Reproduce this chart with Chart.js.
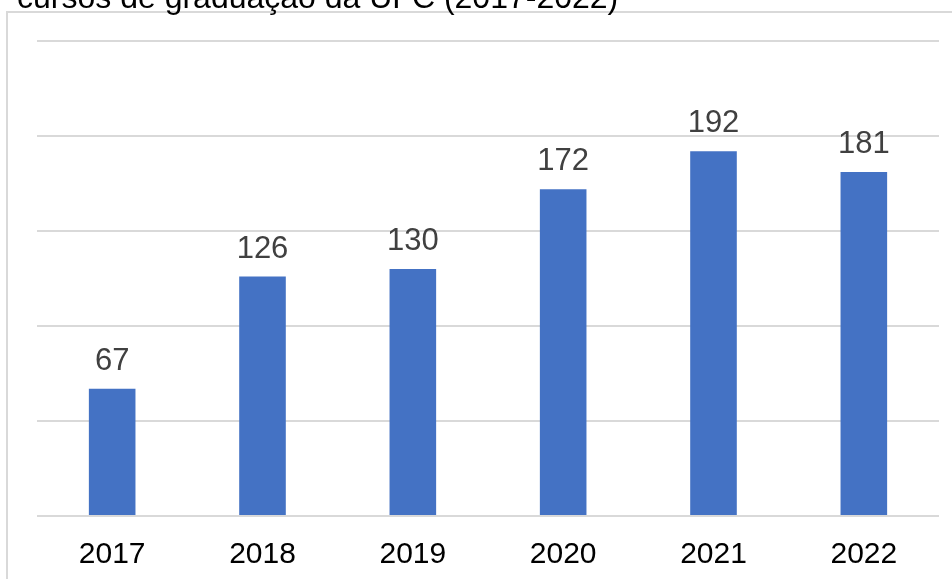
<!doctype html>
<html lang="pt">
  <head>
    <meta charset="utf-8">
    <title>Cursos de graduação da UFC (2017-2022)</title>
    <script src="https://cdn.jsdelivr.net/npm/chart.js"></script>
    <style>
      html, body { margin: 0; padding: 0; background: #fff; overflow: hidden; }
      #chart { display: block; }
    </style>
  </head>
  <body>
    <canvas id="chart" width="952" height="579"></canvas>

    <script>
    // ----- data -----
    const anos = ['2017', '2018', '2019', '2020', '2021', '2022'];
    const cursos = [67, 126, 130, 172, 192, 181];
    const titulo = 'cursos de graduação da UFC (2017-2022)';

    const fonte = 'Liberation Sans, Arial, sans-serif';

    // frame around the plot + title text at the top
    const moldura = {
      id: 'moldura',
      beforeDraw(chart) {
        const ctx = chart.ctx;
        ctx.save();
        ctx.strokeStyle = '#d9d9d9';
        ctx.lineWidth = 2;
        ctx.beginPath();
        ctx.moveTo(7, chart.height);
        ctx.lineTo(7, 12);
        ctx.lineTo(chart.width, 12);
        ctx.stroke();

        ctx.fillStyle = '#000';
        ctx.font = '32px ' + fonte;
        ctx.textAlign = 'left';
        ctx.textBaseline = 'alphabetic';
        ctx.fillText(titulo, 17, 8);
        ctx.restore();
      }
    };

    // value above each bar
    const rotulos = {
      id: 'rotulos',
      afterDatasetsDraw(chart) {
        const ctx = chart.ctx;
        const meta = chart.getDatasetMeta(0);
        ctx.save();
        ctx.fillStyle = '#404040';
        ctx.font = '31px ' + fonte;
        ctx.textAlign = 'center';
        ctx.textBaseline = 'alphabetic';
        meta.data.forEach((bar, i) => {
          ctx.fillText(String(cursos[i]), bar.x, bar.y - 19);
        });
        ctx.restore();
      }
    };

    const grafico = new Chart(document.getElementById('chart'), {
      type: 'bar',
      data: {
        labels: anos,
        datasets: [{
          label: 'Cursos',
          data: cursos,
          backgroundColor: '#4472c4',
          borderWidth: 0,
          categoryPercentage: 1,
          barPercentage: 0.31
        }]
      },
      options: {
        responsive: false,
        animation: false,
        devicePixelRatio: 1,
        layout: { padding: { left: 37, right: 13, top: 41, bottom: -7 } },
        plugins: {
          legend: { display: false },
          title: { display: false },
          tooltip: { enabled: false }
        },
        scales: {
          x: {
            grid: { display: false },
            border: { display: false },
            ticks: {
              color: '#000',
              font: { family: fonte, size: 30 },
              padding: 13,
              maxRotation: 0
            }
          },
          y: {
            min: 0,
            max: 250,
            ticks: { display: false, stepSize: 50 },
            grid: { color: '#d9d9d9', lineWidth: 2, drawTicks: false },
            border: { display: false }
          }
        }
      },
      plugins: [moldura, rotulos]
    });
    </script>
  </body>
</html>
